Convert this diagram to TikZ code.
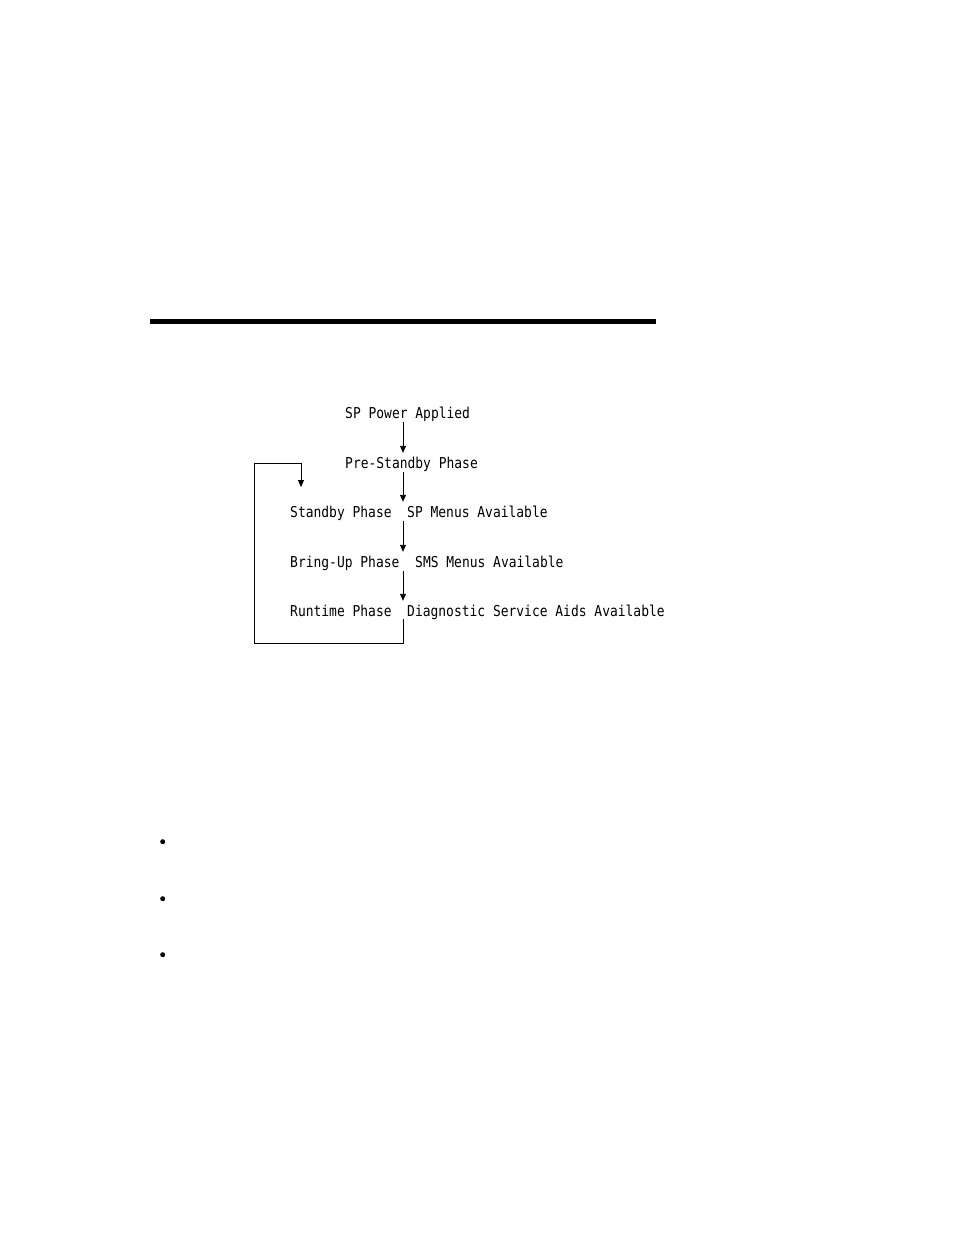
\documentclass[tikz,border=0pt]{standalone}
\usepackage{fontspec}
\newfontfamily\diagfont[FakeStretch=0.864]{DejaVu Sans Mono}
\usetikzlibrary{arrows.meta}
\begin{document}
\begin{tikzpicture}[x=1pt,y=-1pt,
  lbl/.style={anchor=base west,inner sep=0pt,text height=11pt,text depth=3pt,
    font=\diagfont\fontsize{15}{18}\selectfont},
  conn/.style={line width=0.9pt,-{Triangle[width=6pt,length=7pt]}},
  plainline/.style={line width=0.9pt}]
\useasboundingbox (0,0) rectangle (954,1235);
\fill[white] (0,0) rectangle (954,1235);
% heading rule
\fill[black] (150,319) rectangle (656,324);
% column of the main arrows
\coordinate (col) at (403,0);
% text nodes
\node[lbl] (spa) at (345,418) {SP Power Applied};
\node[lbl] (pre) at (345,468) {Pre-Standby Phase};
\node[lbl] (stb) at (290,517) {Standby Phase};
\node[lbl] (spm) at (407,517) {SP Menus Available};
\node[lbl] (bru) at (290,567) {Bring-Up Phase};
\node[lbl] (sms) at (415,567) {SMS Menus Available};
\node[lbl] (run) at (290,616) {Runtime Phase};
\node[lbl] (dsa) at (407,616) {Diagnostic Service Aids Available};
% main arrows
\draw[conn,shorten <=1pt,shorten >=4pt] (spa.south -| col) -- (pre.north -| col);
\draw[conn,shorten <=1pt,shorten >=4pt] (pre.south -| col) -- (stb.north -| col);
\draw[conn,shorten <=1pt,shorten >=4pt] (stb.south -| col) -- (bru.north -| col);
\draw[conn,shorten <=1pt,shorten >=4pt] (bru.south -| col) -- (run.north -| col);
% feedback loop
\coordinate (lb) at (254.5,643.5);
\coordinate (lt) at (254.5,463);
\coordinate (rt) at (301,463);
\coordinate (tip) at (301,487);
\draw[conn] (run.south -| col) |- (lb) -- (lt) -- (rt) -- (tip);
% bullets
\node[circle,fill=black,inner sep=0pt,minimum size=5pt] (b1) at (162.7,841.7) {};
\node[circle,fill=black,inner sep=0pt,minimum size=5pt] (b2) at (162.7,898.7) {};
\node[circle,fill=black,inner sep=0pt,minimum size=5pt] (b3) at (162.7,954.7) {};
\end{tikzpicture}
\end{document}
